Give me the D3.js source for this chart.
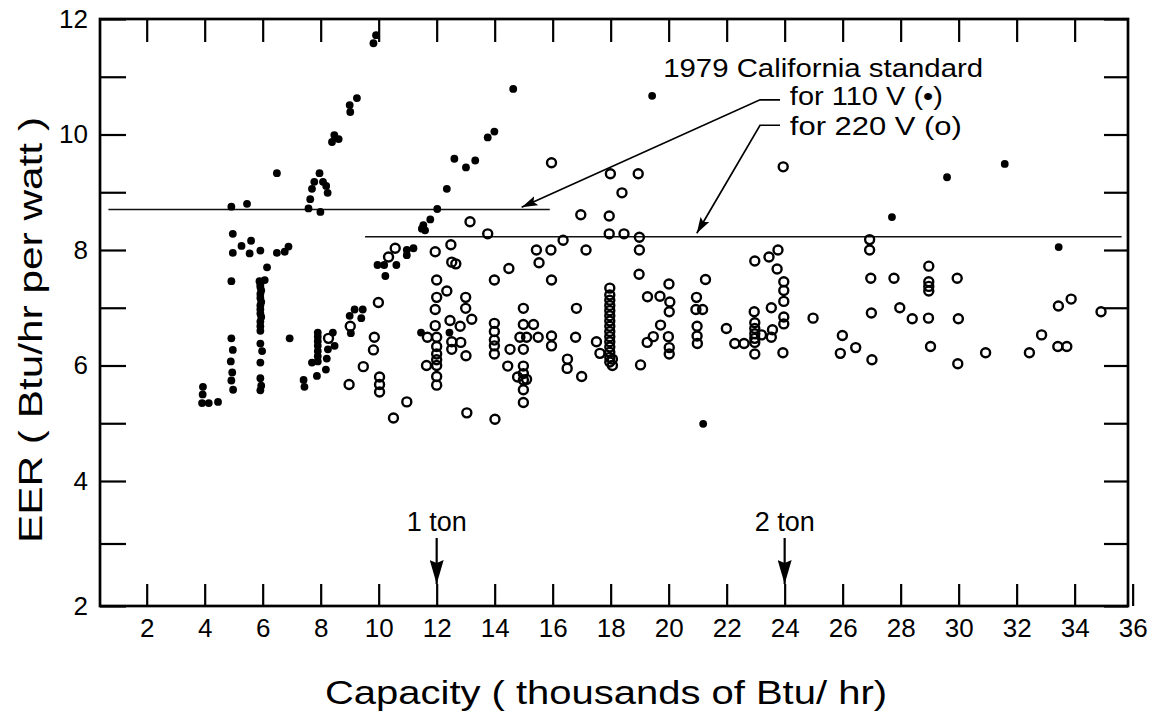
<!DOCTYPE html>
<html>
<head>
<meta charset="utf-8">
<script src="https://cdn.jsdelivr.net/npm/d3@7"></script>
<style>
  body { margin: 0; background: #fff; }
  svg { display: block; }
  text { font-family: "Liberation Sans", Arial, sans-serif; fill: #000; }
</style>
</head>
<body>
<svg id="chart" width="1161" height="719"></svg>
<script>
// room air conditioners, [capacity (thousand Btu/hr), EER]
// 110 V units (filled dots)
const units110 = [
  [9.82, 11.58], [9.91, 11.72], [9.0, 10.51], [9.02, 10.39], [9.25, 10.63],
  [8.47, 9.99], [8.39, 9.87], [8.62, 9.92],
  [6.49, 9.33], [7.96, 9.33], [7.78, 9.18], [8.08, 9.18], [7.7, 9.06], [8.19, 9.11],
  [8.24, 8.99], [7.64, 8.88], [7.58, 8.72], [7.99, 8.66],
  [4.92, 8.75], [5.46, 8.8], [4.97, 8.28], [5.27, 8.07], [5.6, 8.16], [4.97, 7.95],
  [5.55, 7.94], [5.92, 7.99], [6.49, 7.95], [6.76, 7.97], [6.89, 8.06], [6.15, 7.7],
  [4.92, 7.46], [5.89, 7.46], [6.07, 7.48], [5.92, 7.4],
  [5.92, 7.36], [5.95, 7.3], [5.92, 7.24], [5.92, 7.17], [5.95, 7.1], [5.92, 7.04],
  [5.92, 6.97], [5.92, 6.9], [5.95, 6.84], [5.92, 6.76], [5.92, 6.68], [5.92, 6.6],
  [5.92, 6.38], [5.98, 6.25], [5.92, 6.05], [5.92, 5.78], [5.95, 5.65], [5.92, 5.57],
  [4.92, 6.47], [4.97, 6.27], [4.9, 6.07], [4.95, 5.88], [4.92, 5.74], [4.98, 5.58],
  [3.94, 5.63], [3.93, 5.5], [3.91, 5.35], [4.14, 5.35], [4.46, 5.37],
  [6.93, 6.47],
  [7.9, 6.57], [7.9, 6.5], [7.9, 6.42], [7.9, 6.34], [7.9, 6.25], [7.9, 6.16], [7.9, 6.07],
  [7.7, 6.05], [7.87, 5.82], [8.18, 5.93], [8.21, 6.12], [8.25, 6.28], [8.48, 6.34], [8.42, 6.57],
  [7.41, 5.75], [7.44, 5.63],
  [9.17, 6.97], [9.45, 6.97], [9.0, 6.86], [9.4, 6.82], [9.04, 6.56],
  [9.96, 7.74], [10.19, 7.74], [10.23, 7.55], [10.61, 7.74], [10.97, 8.0], [10.97, 7.91], [11.2, 8.03],
  [11.49, 8.37], [11.54, 8.43], [11.6, 8.34], [11.78, 8.53], [12.02, 8.71], [12.35, 9.06],
  [12.61, 9.58], [13.01, 9.43], [13.33, 9.55], [13.76, 9.95], [13.99, 10.05],
  [14.64, 10.79], [19.43, 10.67],
  [11.46, 6.57], [12.44, 6.57],
  [21.19, 4.99], [33.45, 8.05], [29.6, 9.26], [31.59, 9.49], [27.7, 8.57]
];

// 220 V units (open circles)
const units220 = [
  [10.57, 8.03], [10.34, 7.88], [9.99, 7.09], [9.85, 6.49], [9.82, 6.27], [9.47, 5.98],
  [8.98, 5.67], [10.03, 5.8], [10.03, 5.67], [10.03, 5.54], [10.97, 5.37], [10.51, 5.09],
  [8.27, 6.47], [9.02, 6.68],
  [15.96, 9.51], [17.99, 9.32], [18.95, 9.32], [18.39, 8.99], [13.15, 8.49], [13.76, 8.28],
  [16.97, 8.61], [17.95, 8.59], [17.95, 8.28], [18.46, 8.28], [18.99, 8.22], [16.36, 8.17],
  [15.44, 8.0], [15.94, 8.0], [17.15, 8.0], [18.99, 8.0], [15.53, 7.78], [14.49, 7.68],
  [11.95, 7.97], [12.49, 8.09], [12.52, 7.79], [12.66, 7.76], [12.0, 7.48], [13.99, 7.48],
  [15.96, 7.48], [18.98, 7.58], [12.35, 7.29],
  [12.0, 7.18], [13.0, 7.18], [11.95, 6.97], [13.0, 6.99], [12.46, 6.78], [12.81, 6.68],
  [13.21, 6.8], [11.95, 6.69], [11.68, 6.49],
  [12.0, 6.49], [12.0, 6.33], [12.0, 6.2], [12.0, 6.1], [12.0, 6.0], [12.0, 5.81], [12.0, 5.66],
  [11.65, 6.0], [12.52, 6.41], [12.52, 6.28], [12.83, 6.4], [13.01, 6.17],
  [13.99, 6.73], [13.99, 6.59], [13.99, 6.44], [13.99, 6.34], [13.99, 6.2],
  [14.53, 6.28], [14.45, 5.99], [14.99, 6.99], [14.99, 6.71], [15.34, 6.71], [14.87, 6.49],
  [15.1, 6.49], [15.5, 6.49], [14.99, 6.28],
  [14.99, 5.99], [14.99, 5.86], [14.99, 5.75], [14.99, 5.58], [14.99, 5.36], [14.79, 5.8], [15.1, 5.76],
  [15.96, 6.51], [15.96, 6.34], [16.82, 6.99], [16.79, 6.49], [16.51, 6.11], [16.5, 5.95],
  [17.0, 5.81], [17.51, 6.41], [17.63, 6.21],
  [17.97, 7.34], [17.97, 7.22], [17.97, 7.13], [17.97, 7.04], [17.97, 6.95], [17.97, 6.86],
  [17.97, 6.77], [17.97, 6.68], [17.97, 6.59], [17.97, 6.5], [17.97, 6.41], [17.97, 6.32],
  [17.97, 6.23], [17.97, 6.14], [17.97, 6.06],
  [18.06, 6.11], [18.06, 6.0], [19.03, 6.01], [19.27, 7.19], [19.26, 6.4], [13.04, 5.18], [14.01, 5.07],
  [20.01, 7.41], [21.27, 7.49], [19.7, 7.2], [20.04, 7.1], [20.02, 6.93], [20.96, 7.18],
  [20.94, 6.97], [21.17, 6.97], [20.98, 6.68], [19.72, 6.7], [19.47, 6.5], [19.99, 6.5],
  [20.98, 6.51], [21.99, 6.64],
  [22.97, 7.81], [23.46, 7.88], [23.77, 8.0], [23.74, 7.67],
  [23.97, 7.45], [23.97, 7.3], [23.97, 7.11], [23.97, 6.84], [23.97, 6.72],
  [23.54, 7.0], [22.95, 6.93], [22.97, 6.74], [22.97, 6.64], [22.97, 6.55], [22.97, 6.47],
  [22.97, 6.4], [22.97, 6.2], [23.58, 6.62], [23.2, 6.53], [23.54, 6.49],
  [24.98, 6.82], [25.99, 6.52], [26.93, 8.18], [26.93, 8.0], [26.97, 7.51], [26.99, 6.91],
  [20.02, 6.31], [20.02, 6.2], [20.99, 6.38], [22.28, 6.38], [22.6, 6.38], [23.94, 6.22],
  [26.45, 6.31], [25.92, 6.21], [27.01, 6.1],
  [28.97, 7.72], [28.97, 7.45], [28.97, 7.37], [28.97, 7.29], [27.77, 7.51], [29.95, 7.51],
  [27.97, 7.0], [28.4, 6.81], [28.96, 6.82], [29.99, 6.81], [29.03, 6.33], [29.97, 6.03],
  [30.93, 6.22], [32.44, 6.22], [32.86, 6.53], [33.42, 6.33], [33.73, 6.33], [33.44, 7.03],
  [33.88, 7.15], [34.91, 6.93], [23.95, 9.44]
];

// 1979 California standard lines: [from capacity, to capacity, EER]
const std110 = [0.68, 15.9, 8.7];
const std220 = [9.53, 35.62, 8.23];

const xTicks = d3.range(2, 37, 2);
const yTicks = d3.range(2, 13, 1);
const tonMarks = [[12, "1 ton"], [24, "2 ton"]];

const plotLeft = 100, plotRight = 1128, plotTop = 19, plotBottom = 606;

const svg = d3.select("#chart");

// the original scan is a bit stretched below 4, so the y scale has a break point
const x = d3.scaleLinear().domain([0.39, 35.84]).range([plotLeft, plotRight]);
const y = d3.scaleLinear().domain([2, 4, 12]).range([plotBottom, 481, plotTop]);

const defs = svg.append("defs");
defs.append("marker")
  .attr("id", "head")
  .attr("viewBox", "0 0 16 10")
  .attr("refX", 16).attr("refY", 5)
  .attr("markerWidth", 16).attr("markerHeight", 10)
  .attr("markerUnits", "userSpaceOnUse")
  .attr("orient", "auto")
  .append("path")
  .attr("d", "M0,0 L16,5 L0,10 L3,5 Z")
  .style("fill", "black");
defs.append("marker")
  .attr("id", "tonHead")
  .attr("viewBox", "0 0 24 14")
  .attr("refX", 24).attr("refY", 7)
  .attr("markerWidth", 24).attr("markerHeight", 14)
  .attr("markerUnits", "userSpaceOnUse")
  .attr("orient", "auto")
  .append("path")
  .attr("d", "M0,0 L24,7 L0,14 L3,7 Z")
  .style("fill", "black");

function styleAxis(g, size) {
  g.select(".domain").remove();
  g.selectAll(".tick line").attr("stroke", "#000").attr("stroke-width", 2.2);
  g.selectAll(".tick text")
    .attr("fill", "#000")
    .style("font-family", "'Liberation Sans', Arial, sans-serif")
    .style("font-size", size + "px");
}

svg.append("g")
  .attr("transform", `translate(0,${plotBottom})`)
  .call(d3.axisBottom(x).tickValues(xTicks).tickSize(-22).tickPadding(13))
  .call(g => styleAxis(g, 26));

svg.append("g")
  .attr("transform", `translate(0,${plotTop})`)
  .call(d3.axisTop(x).tickValues(xTicks.filter(d => d < 36)).tickSize(-23).tickFormat(""))
  .call(g => styleAxis(g, 26));

svg.append("g")
  .attr("transform", `translate(${plotLeft},0)`)
  .call(d3.axisLeft(y).tickValues(yTicks).tickSize(-26).tickPadding(12)
    .tickFormat(d => d % 2 === 0 ? d : ""))
  .call(g => styleAxis(g, 26));

svg.append("g")
  .attr("transform", `translate(${plotRight},0)`)
  .call(d3.axisRight(y).tickValues(yTicks).tickSize(-24).tickFormat(""))
  .call(g => styleAxis(g, 26));

svg.append("rect")
  .attr("x", plotLeft).attr("y", plotTop)
  .attr("width", plotRight - plotLeft).attr("height", plotBottom - plotTop)
  .attr("fill", "none").attr("stroke", "#000").attr("stroke-width", 2.7);

// standard lines
svg.selectAll("line.std")
  .data([std110, std220])
  .enter().append("line")
  .attr("class", "std")
  .attr("x1", d => x(d[0])).attr("x2", d => x(d[1]))
  .attr("y1", d => y(d[2])).attr("y2", d => y(d[2]))
  .attr("stroke", "#111").attr("stroke-width", 1.5);

// points
svg.append("g").selectAll("circle")
  .data(units220)
  .enter().append("circle")
  .attr("cx", d => x(d[0])).attr("cy", d => y(d[1]))
  .attr("r", 4.5)
  .attr("fill", "none").attr("stroke", "#000").attr("stroke-width", 2.4);

svg.append("g").selectAll("circle")
  .data(units110)
  .enter().append("circle")
  .attr("cx", d => x(d[0])).attr("cy", d => y(d[1]))
  .attr("r", 3.9)
  .attr("fill", "#000");

// annotation
const note = svg.append("g").style("font-size", "25px");
note.append("text")
  .attr("x", x(19.81)).attr("y", y(11.0))
  .attr("textLength", 320).attr("lengthAdjust", "spacingAndGlyphs")
  .text("1979 California standard");
note.append("text")
  .attr("x", x(24.18)).attr("y", y(10.51))
  .attr("textLength", 153).attr("lengthAdjust", "spacingAndGlyphs")
  .text("for 110 V (\u2022)");
note.append("text")
  .attr("x", x(24.18)).attr("y", y(9.99))
  .attr("textLength", 172).attr("lengthAdjust", "spacingAndGlyphs")
  .text("for 220 V (o)");

const leader = d3.line().x(d => x(d[0])).y(d => y(d[1]));
svg.append("path")
  .attr("d", leader([[23.84, 10.6], [23.15, 10.6], [14.93, 8.74]]))
  .attr("fill", "none").attr("stroke", "#000").attr("stroke-width", 1.7)
  .attr("marker-end", "url(#head)");
svg.append("path")
  .attr("d", leader([[23.84, 10.16], [23.15, 10.16], [20.97, 8.29]]))
  .attr("fill", "none").attr("stroke", "#000").attr("stroke-width", 1.7)
  .attr("marker-end", "url(#head)");

// ton markers
const tons = svg.append("g").selectAll("g")
  .data(tonMarks)
  .enter().append("g")
  .attr("transform", d => `translate(${x(d[0])},0)`);
tons.append("text")
  .attr("y", plotBottom - 75)
  .attr("text-anchor", "middle")
  .style("font-size", "27px")
  .text(d => d[1]);
tons.append("line")
  .attr("y1", plotBottom - 68).attr("y2", plotBottom - 22)
  .attr("stroke", "#000").attr("stroke-width", 2.2)
  .attr("marker-end", "url(#tonHead)");

// axis titles
svg.append("text")
  .attr("x", 606).attr("y", 704)
  .attr("text-anchor", "middle")
  .attr("textLength", 562).attr("lengthAdjust", "spacingAndGlyphs")
  .style("font-size", "34px")
  .text("Capacity ( thousands of Btu/ hr)");

svg.append("text")
  .attr("transform", "translate(42,330) rotate(-90)")
  .attr("text-anchor", "middle")
  .attr("textLength", 426).attr("lengthAdjust", "spacingAndGlyphs")
  .style("font-size", "34px")
  .text("EER ( Btu/hr per watt )");
</script>
</body>
</html>
